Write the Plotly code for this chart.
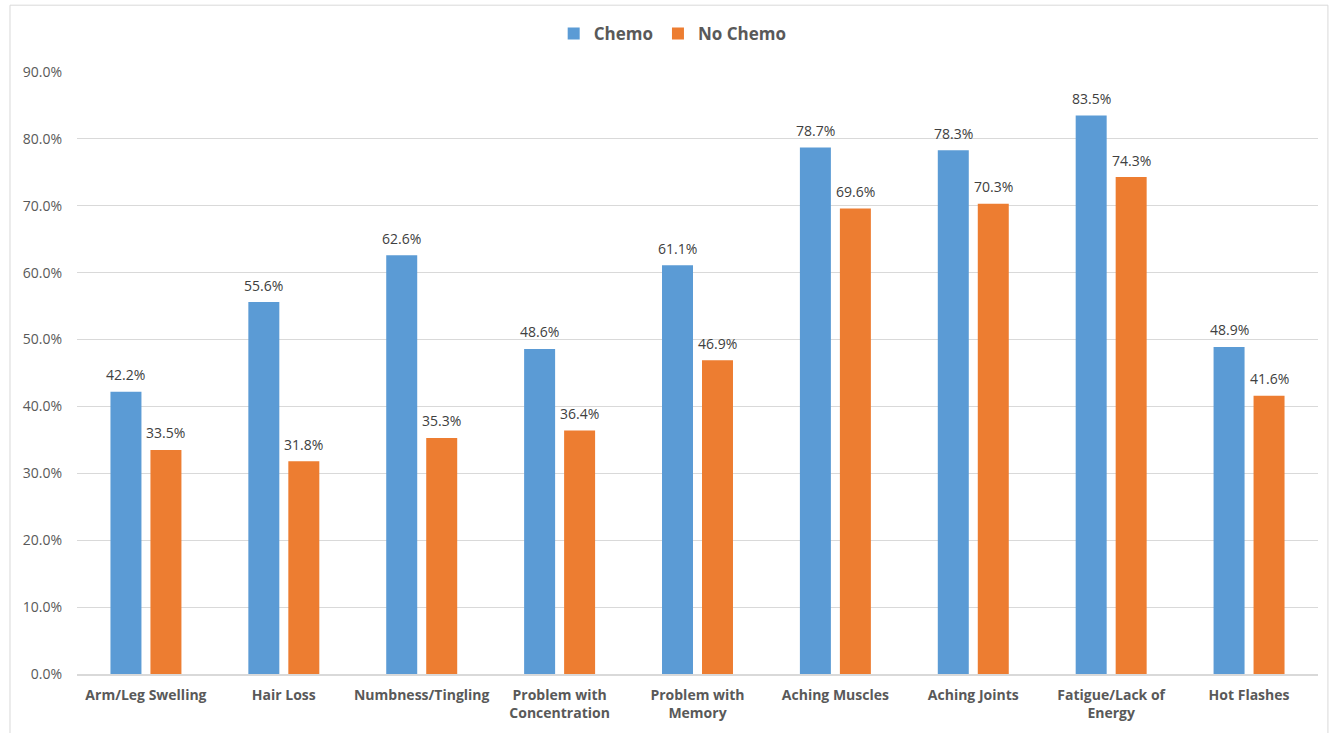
import plotly.graph_objects as go

categories = [
    "Arm/Leg Swelling", "Hair Loss", "Numbness/Tingling",
    "Problem with<br>Concentration", "Problem with<br>Memory",
    "Aching Muscles", "Aching Joints", "Fatigue/Lack of<br>Energy", "Hot Flashes",
]
chemo = [42.2, 55.6, 62.6, 48.6, 61.1, 78.7, 78.3, 83.5, 48.9]
no_chemo = [33.5, 31.8, 35.3, 36.4, 46.9, 69.6, 70.3, 74.3, 41.6]
y_ticks = [0, 10, 20, 30, 40, 50, 60, 70, 80, 90]

FONT = "'Open Sans', sans-serif"
GREY = "#595959"

fig = go.Figure()
series = [("Chemo", chemo, "#5b9bd5", -20), ("No Chemo", no_chemo, "#ed7d31", 20)]
for name, vals, color, _ in series:
    fig.add_trace(go.Bar(
        x=categories, y=vals, name=name, marker=dict(color=color, line=dict(width=0)),
        cliponaxis=False,
    ))

# value labels above each bar
annotations = []
for name, vals, color, shift in series:
    for cat, v in zip(categories, vals):
        annotations.append(dict(
            x=cat, y=v, xref="x", yref="y", text=f"{v:.1f}%", showarrow=False,
            xshift=shift, yshift=17, yanchor="middle",
            font=dict(family=FONT, size=14, color="#404040"),
        ))

fig.update_layout(
    width=1338, height=733,
    margin=dict(l=77, r=20, t=72, b=59),
    paper_bgcolor="white", plot_bgcolor="white",
    barmode="group", bargap=0.42, bargroupgap=0.225,
    font=dict(family=FONT, color=GREY),
    annotations=annotations,
    legend=dict(
        orientation="h", x=0.48, xanchor="center", y=1.063, yanchor="middle",
        font=dict(family=FONT, size=17, color=GREY, weight="bold"),
        itemwidth=30, traceorder="normal",
    ),
    xaxis=dict(
        showgrid=False, showline=True, linecolor="#d9d9d9", linewidth=2,
        tickfont=dict(family=FONT, size=14, color=GREY, weight="bold"),
        ticks="", ticklabelstandoff=7, fixedrange=True,
    ),
    yaxis=dict(
        range=[0, 90], tickvals=y_ticks,
        ticktext=[f"{v:.1f}%" for v in y_ticks],
        showgrid=True, gridcolor="#d9d9d9", gridwidth=1,
        zeroline=False, showline=False, ticks="", ticklabelstandoff=14,
        tickfont=dict(family=FONT, size=14, color=GREY),
    ),
    shapes=[dict(
        type="rect", xref="paper", yref="paper",
        x0=-0.054, x1=1.008, y0=-0.2, y1=1.111,
        line=dict(color="#d9d9d9", width=1), layer="below",
    )],
)

fig.write_html("out.html")
